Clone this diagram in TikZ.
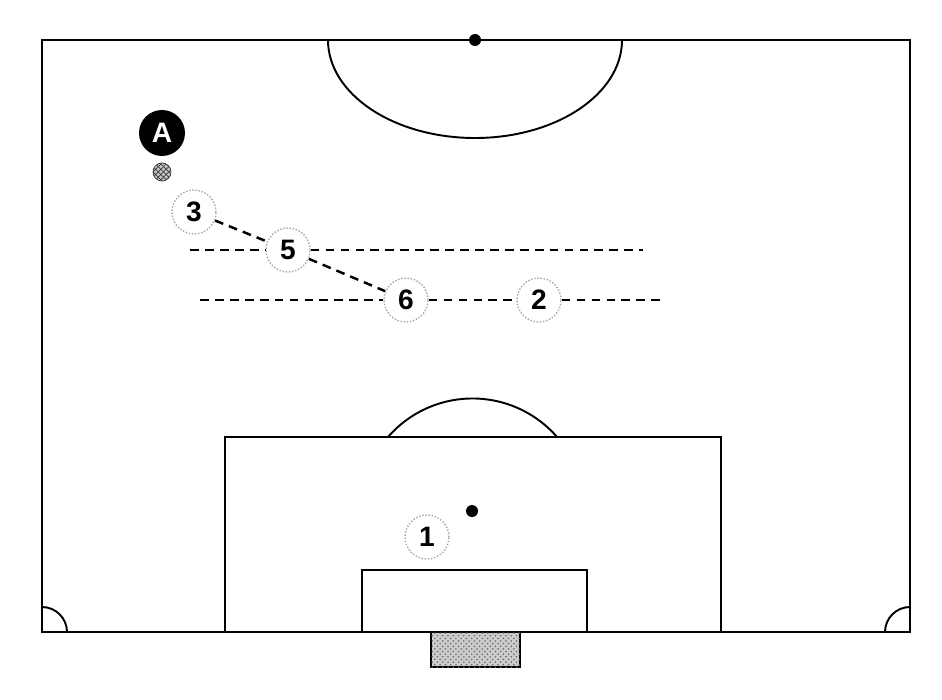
\documentclass[tikz,border=0pt]{standalone}
\usepackage{fontspec}
\setmainfont{Liberation Sans}
\usetikzlibrary{patterns}

\tikzset{
  line/.style={line width=1.1pt},
  run/.style={line width=1.4pt, dash pattern=on 5pt off 3.5pt},
  player/.style={circle, draw=gray!70, densely dotted, thick, fill=white, minimum size=0.88cm, inner sep=0pt, font=\fontsize{16}{16}\selectfont\bfseries},
  attacker/.style={circle, fill=black, text=white, minimum size=0.92cm, inner sep=0pt, font=\fontsize{16}{16}\selectfont\bfseries},
  ball/.style={circle, draw=black!80, fill=gray!45, minimum size=0.36cm, inner sep=0pt, postaction={pattern=crosshatch, pattern color=black!75}}
}

\begin{document}
\begin{tikzpicture}[x=0.02cm, y=-0.02cm]
  \useasboundingbox (0,0) rectangle (942,699);
  \begin{scope}
   \draw[line] (42,40) rectangle (910,632);
   \draw[line] (328,40) arc[start angle=180, end angle=0, x radius=147, y radius=98];
   \fill (475,40) circle[radius=6];
   \draw[line] (225,632) -- (225,437) -- (721,437) -- (721,632);
   \draw[line] (388,437) arc[start angle=221, end angle=319, radius=112];
   \draw[line] (362,632) -- (362,570) -- (587,570) -- (587,632);
   \fill (472,511) circle[radius=6];
   \draw[line] (42,607) arc[start angle=270, end angle=360, radius=25];
   \draw[line] (885,632) arc[start angle=180, end angle=270, radius=25];
   \draw[line, fill=gray!40] (431,632) rectangle (520,667);
   \fill[pattern=crosshatch dots, pattern color=gray!80!black] (431,632) rectangle (520,667);
  \end{scope}
  \begin{scope}
   \node[attacker] (A) at (162,133) {A};
   \node[ball] (ball) at (162,172) {};
   \node[player] (p3) at (194,212) {3};
   \node[player] (p5) at (288,250) {5};
   \node[player] (p6) at (406,300) {6};
   \node[player] (p2) at (539,300) {2};
   \node[player] (p1) at (427,537) {1};
   \coordinate (u1) at (190,250);
   \coordinate (u2) at (643,250);
   \coordinate (d1) at (200,300);
   \coordinate (d2) at (663,300);
   \draw[run] (u1) -- (p5) -- (u2);
   \draw[run] (d1) -- (p6) -- (p2) -- (d2);
   \draw[run] (p3) -- (p5) -- (p6);
  \end{scope}
\end{tikzpicture}
\end{document}
